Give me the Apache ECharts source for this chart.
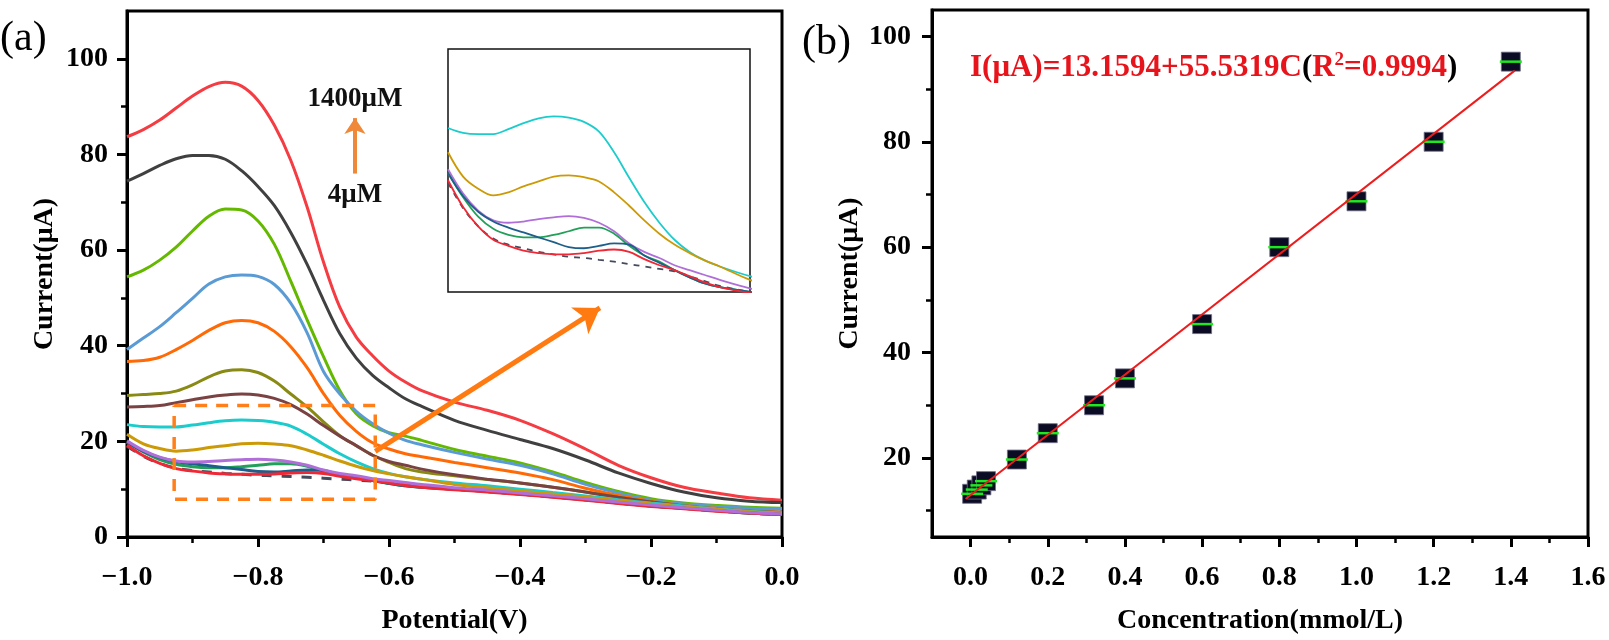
<!DOCTYPE html>
<html>
<head>
<meta charset="utf-8">
<script src="https://cdn.jsdelivr.net/npm/echarts@6.0.0/dist/echarts.min.js"></script>
<style>
  html, body { margin: 0; padding: 0; background: #fff; }
  #chart { width: 1609px; height: 640px; }
</style>
</head>
<body>
<div id="chart"></div>
<script>
// ---- panel (a): DPV curves ----
const potential = [-1.0, -0.975, -0.95, -0.925, -0.9, -0.875, -0.85, -0.825, -0.8, -0.775, -0.75, -0.725, -0.7, -0.675, -0.65, -0.625, -0.6, -0.575, -0.55,
  -0.5, -0.45, -0.4, -0.35, -0.3, -0.25, -0.2, -0.15, -0.1, -0.05, 0.0];

const curve1400 = [83.7, 85.2, 87.2, 89.7, 92.2, 94.2, 95.1, 94.3, 91.3, 86.1, 78.8, 69.0, 57.5, 48.0, 41.8, 37.9, 34.7, 32.4, 30.6,
  28.2, 26.5, 24.4, 21.6, 18.4, 15.0, 12.4, 10.4, 9.2, 8.2, 7.7];
const curve1200 = [74.4, 76.0, 77.7, 79.1, 79.8, 79.8, 79.0, 76.6, 73.3, 69.3, 63.7, 57.0, 49.5, 42.5, 37.4, 33.8, 31.2, 28.9, 27.3,
  24.4, 22.3, 20.4, 18.5, 16.1, 13.4, 11.2, 9.4, 8.2, 7.5, 7.2];
const curve1000 = [54.4, 55.8, 57.9, 60.6, 64.0, 67.1, 68.6, 68.4, 66.1, 61.2, 53.5, 45.4, 37.7, 30.6, 25.8, 23.3, 21.8, 21.1, 20.2,
  18.3, 16.9, 15.5, 13.6, 11.4, 9.5, 8.0, 7.1, 6.6, 6.2, 6.0];
const curve800 = [39.2, 41.6, 44.0, 46.9, 49.9, 52.9, 54.4, 54.8, 54.5, 52.8, 48.9, 42.7, 34.6, 29.9, 26.3, 23.7, 21.7, 20.2, 19.3,
  17.7, 16.3, 15.0, 13.2, 11.0, 9.2, 7.7, 6.9, 6.4, 6.0, 5.8];
const curve600 = [36.7, 36.9, 37.6, 39.2, 41.1, 43.2, 44.8, 45.3, 44.8, 43.0, 39.8, 35.4, 30.0, 25.4, 22.1, 19.7, 18.4, 17.4, 16.8,
  15.6, 14.5, 13.4, 12.0, 10.2, 8.7, 7.5, 6.6, 6.0, 5.5, 5.2];
const curve400 = [29.6, 29.8, 30.0, 30.5, 31.8, 33.5, 34.7, 35.0, 34.4, 32.6, 29.9, 27.2, 24.1, 21.2, 19.1, 17.1, 15.6, 14.3, 13.6,
  12.8, 12.0, 11.3, 10.4, 9.4, 8.3, 7.3, 6.5, 5.9, 5.4, 5.1];
const curve320 = [27.2, 27.3, 27.5, 28.1, 28.7, 29.3, 29.7, 29.9, 29.7, 29.0, 27.7, 25.7, 23.3, 21.1, 19.1, 17.1, 15.8, 15.0, 14.2,
  13.0, 12.1, 11.3, 10.4, 9.4, 8.3, 7.3, 6.5, 5.9, 5.4, 5.1];
const curve200 = [23.5, 23.1, 23.0, 23.0, 23.4, 23.9, 24.3, 24.45, 24.35, 24.0, 23.2, 21.5, 19.4, 17.4, 15.7, 14.3, 13.3, 12.6, 12.1,
  11.3, 10.7, 10.0, 9.3, 8.6, 7.8, 7.1, 6.5, 5.9, 5.4, 5.0];
const curve120 = [21.5, 19.5, 18.5, 17.95, 18.2, 18.7, 19.1, 19.5, 19.6, 19.45, 19.1, 18.2, 17.1, 15.9, 14.8, 13.9, 13.2, 12.6, 12.1,
  11.0, 10.3, 9.6, 9.0, 8.3, 7.6, 6.9, 6.3, 5.8, 5.3, 5.0];
const curve40 = [20.1, 18.1, 16.7, 15.9, 15.7, 15.8, 16.0, 16.15, 16.25, 16.1, 15.7, 15.0, 14.0, 13.3, 12.8, 12.2, 11.8, 11.4, 11.0,
  10.3, 9.8, 9.2, 8.6, 8.0, 7.3, 6.7, 6.1, 5.6, 5.1, 4.8];
const curve28 = [19.8, 17.8, 16.2, 15.2, 14.7, 14.5, 14.5, 14.7, 15.0, 15.3, 15.3, 14.8, 13.8, 13.0, 12.5, 11.8, 11.2, 10.7, 10.4,
  10.0, 9.5, 9.0, 8.4, 7.8, 7.1, 6.5, 6.0, 5.5, 5.0, 4.7];
const curve16 = [19.8, 17.9, 16.6, 15.8, 15.3, 14.9, 14.5, 14.1, 13.7, 13.6, 13.8, 14.0, 13.9, 13.0, 12.4, 11.8, 11.2, 10.7, 10.4,
  10.0, 9.5, 9.0, 8.4, 7.8, 7.1, 6.5, 6.0, 5.5, 5.0, 4.7];
const curve4 = [19.2, 17.0, 15.4, 14.3, 13.8, 13.4, 13.2, 13.1, 13.1, 13.2, 13.4, 13.5, 13.3, 12.7, 12.2, 11.8, 11.3, 10.8, 10.4,
  9.9, 9.4, 8.9, 8.3, 7.7, 7.0, 6.4, 5.9, 5.4, 5.0, 4.7];
const blank = [19.0, 16.9, 15.4, 14.4, 13.9, 13.6, 13.3, 13.1, 12.9, 12.8, 12.65, 12.5, 12.3, 12.1, 11.9, 11.7, 11.3, 10.9, 10.5,
  10.0, 9.5, 9.0, 8.4, 7.8, 7.1, 6.5, 6.0, 5.5, 5.0, 4.7];

const potTicks = [-1.0, -0.8, -0.6, -0.4, -0.2, 0.0];
const potMinor = [-0.9, -0.7, -0.5, -0.3, -0.1];
const curTicksA = [0, 20, 40, 60, 80, 100];
const curMinorA = [10, 30, 50, 70, 90];

// zoomed window (dashed box) and arrows of panel (a)
const boxX = [-0.928, -0.621];
const boxY = [7.9, 27.5];
const bigArrow = [[-0.621, 17.9], [-0.278, 47.9]];
const smallArrow = [[-0.652, 76.0], [-0.652, 87.6]];

// ---- panel (b): calibration ----
const conc = [0.004, 0.016, 0.028, 0.04, 0.12, 0.2, 0.32, 0.4, 0.6, 0.8, 1.0, 1.2, 1.4];
const current = [13.2, 14.0, 14.8, 15.6, 19.7, 24.7, 30.0, 35.1, 45.4, 60.0, 68.7, 80.0, 95.2];
const fitX = [-0.013, 1.41];
const fitY = [12.2, 93.5];
const concTicks = [0.0, 0.2, 0.4, 0.6, 0.8, 1.0, 1.2, 1.4, 1.6];
const concMinor = [0.1, 0.3, 0.5, 0.7, 0.9, 1.1, 1.3, 1.5];
const curTicksB = [20, 40, 60, 80, 100];
const curMinorB = [10, 30, 50, 70, 90];

const FONT = 'Liberation Serif';

const curves = [
  { d: curve1400, c: '#f43c42' },
  { d: curve1200, c: '#404040' },
  { d: curve1000, c: '#64b900' },
  { d: curve800, c: '#5b9bd5' },
  { d: curve600, c: '#ff6a06' },
  { d: curve400, c: '#888a14' },
  { d: curve320, c: '#7a4242' },
  { d: curve200, c: '#1ccccc' },
  { d: curve120, c: '#cc9a06' },
  { d: curve28, c: '#22a05a' },
  { d: curve16, c: '#1d5f8a' },
  { d: curve4, c: '#ef2836' },
  { d: curve40, c: '#b06fd8' }
];
const insetCurves = [curve200, curve120, curve40, curve28, curve16, curve4];
const insetColors = ['#1ccccc', '#cc9a06', '#b06fd8', '#22a05a', '#1d5f8a', '#ef2836'];

const pairs = (xs, ys) => xs.map((x, i) => [x, ys[i]]);
const fmtV = v => (v < 0 ? '\u2212' : '') + Math.abs(v).toFixed(1);

function majorAxis(grid, min, max, ticks, fmt, name, gap, margin, pos) {
  return {
    gridIndex: grid, type: 'value', min: min, max: max, position: pos,
    name: name, nameLocation: 'middle', nameGap: gap,
    nameTextStyle: { fontFamily: FONT, fontWeight: 'bold', fontSize: 28, color: '#000' },
    axisLine: { show: true, onZero: false, lineStyle: { color: '#000', width: 3 } },
    axisTick: { show: true, inside: false, length: 10, lineStyle: { color: '#000', width: 3 }, customValues: ticks },
    axisLabel: { customValues: ticks, formatter: fmt, margin: margin, fontFamily: FONT, fontWeight: 'bold', fontSize: 28, color: '#000' },
    splitLine: { show: false }
  };
}
function minorAxis(grid, min, max, ticks, pos) {
  return {
    gridIndex: grid, type: 'value', min: min, max: max, position: pos,
    axisLine: { show: false, onZero: false },
    axisTick: { show: true, inside: false, length: 6, lineStyle: { color: '#000', width: 2.5 }, customValues: ticks },
    axisLabel: { show: false },
    splitLine: { show: false }
  };
}

const SMOOTH = 0.35;
const series = [];
curves.forEach(cv => {
  series.push({
    type: 'line', xAxisIndex: 0, yAxisIndex: 0, data: pairs(potential, cv.d),
    showSymbol: false, smooth: SMOOTH, lineStyle: { color: cv.c, width: 3 }, silent: true
  });
});
series.push({
  type: 'line', xAxisIndex: 0, yAxisIndex: 0, data: pairs(potential, blank),
  showSymbol: false, smooth: SMOOTH, z: 1, lineStyle: { color: '#454a5c', width: 3, type: [10, 10] }
});

// dashed box with the arrows
series.push({
  type: 'line', xAxisIndex: 0, yAxisIndex: 0, showSymbol: false, z: 4,
  data: [[boxX[0], boxY[1]], [boxX[1], boxY[1]], [boxX[1], boxY[0]], [boxX[0], boxY[0]], [boxX[0], boxY[1]]],
  lineStyle: { color: '#ff7f1a', width: 3.5, type: [12, 9] },
  markLine: {
    silent: true, animation: false, symbol: ['none', 'arrow'], symbolSize: 24,
    label: { show: false },
    data: [
      [{ coord: bigArrow[0], lineStyle: { color: '#ff7a10', width: 5, type: 'solid' } }, { coord: bigArrow[1] }],
      [{ coord: smallArrow[0], lineStyle: { color: '#f0883a', width: 4, type: 'solid' } }, { coord: smallArrow[1], symbolSize: 16 }]
    ]
  }
});

// inset
insetCurves.forEach((d, i) => {
  series.push({
    type: 'line', xAxisIndex: 4, yAxisIndex: 4, data: pairs(potential, d),
    showSymbol: false, smooth: SMOOTH, z: 6, lineStyle: { color: insetColors[i], width: 1.8 }
  });
});
series.push({
  type: 'line', xAxisIndex: 4, yAxisIndex: 4, data: pairs(potential, blank),
  showSymbol: false, smooth: SMOOTH, z: 5, lineStyle: { color: '#454a5c', width: 1.8, type: [6, 6] }
});

// panel (b)
series.push({
  type: 'scatter', xAxisIndex: 2, yAxisIndex: 2, data: pairs(conc, current),
  symbol: 'rect', symbolSize: 19, z: 3,
  itemStyle: { color: '#0b0b24', borderColor: '#707088', borderWidth: 0.8, opacity: 1 }
});
series.push({
  type: 'scatter', xAxisIndex: 2, yAxisIndex: 2, data: pairs(conc, current),
  symbol: 'rect', symbolSize: [22, 2.5], z: 4,
  itemStyle: { color: '#1ee81e', opacity: 1 }
});
series.push({
  type: 'line', xAxisIndex: 2, yAxisIndex: 2, data: pairs(fitX, fitY),
  showSymbol: false, z: 5, lineStyle: { color: '#ee1c1c', width: 2 }
});

const option = {
  animation: false,
  backgroundColor: '#fff',
  grid: [
    { left: 127, top: 11, width: 655, height: 527, show: true, borderColor: '#000', borderWidth: 3, backgroundColor: 'transparent' },
    { left: 932, top: 10, width: 656, height: 528, show: true, borderColor: '#000', borderWidth: 3, backgroundColor: 'transparent' },
    { left: 448, top: 49, width: 302, height: 243, show: true, borderColor: '#111', borderWidth: 1.5, backgroundColor: '#fff' }
  ],
  xAxis: [
    majorAxis(0, -1, 0, potTicks, fmtV, 'Potential(V)', 70, 27, 'bottom'),
    minorAxis(0, -1, 0, potMinor, 'bottom'),
    majorAxis(1, -0.1, 1.6, concTicks, v => v.toFixed(1), 'Concentration(mmol/L)', 70, 27, 'bottom'),
    minorAxis(1, -0.1, 1.6, concMinor, 'bottom'),
    { gridIndex: 2, type: 'value', min: -1, max: -0.5, show: false }
  ],
  yAxis: [
    majorAxis(0, 0, 110, curTicksA, v => String(v), 'Current(\u03bcA)', 68, 19, 'left'),
    minorAxis(0, 0, 110, curMinorA, 'left'),
    majorAxis(1, 5, 105, curTicksB, v => String(v), 'Current(\u03bcA)', 68, 21, 'left'),
    minorAxis(1, 5, 105, curMinorB, 'left'),
    { gridIndex: 2, type: 'value', min: 10, max: 30, show: false }
  ],
  graphic: [
    { type: 'text', x: 0, y: 18, style: { text: '(a)', font: '42px ' + FONT, fill: '#000' } },
    { type: 'text', x: 802, y: 22, style: { text: '(b)', font: '42px ' + FONT, fill: '#000' } },
    { type: 'text', x: 355, y: 99, style: { text: '1400\u03bcM', font: 'bold 27px ' + FONT, fill: '#111', align: 'center', verticalAlign: 'middle', textAlign: 'center', textVerticalAlign: 'middle' } },
    { type: 'text', x: 355, y: 195, style: { text: '4\u03bcM', font: 'bold 27px ' + FONT, fill: '#111', align: 'center', verticalAlign: 'middle', textAlign: 'center', textVerticalAlign: 'middle' } },
    {
      type: 'text', x: 970, y: 68, z: 10,
      style: {
        text: '{r|I(\u03bcA)=13.1594+55.5319C}{k|(}{r|R}{s|2}{r|=0.9994}{k|)}',
        verticalAlign: 'middle', textVerticalAlign: 'middle',
        rich: {
          r: { fill: '#e8141c', font: 'bold 31px ' + FONT },
          k: { fill: '#000', font: 'bold 31px ' + FONT },
          s: { fill: '#e8141c', font: 'bold 19px ' + FONT, padding: [0, 0, 16, 0] }
        }
      }
    }
  ],
  series: series
};

const chart = echarts.init(document.getElementById('chart'), null, { renderer: 'canvas' });
chart.setOption(option);
window.addEventListener('resize', () => chart.resize());
</script>
</body>
</html>
